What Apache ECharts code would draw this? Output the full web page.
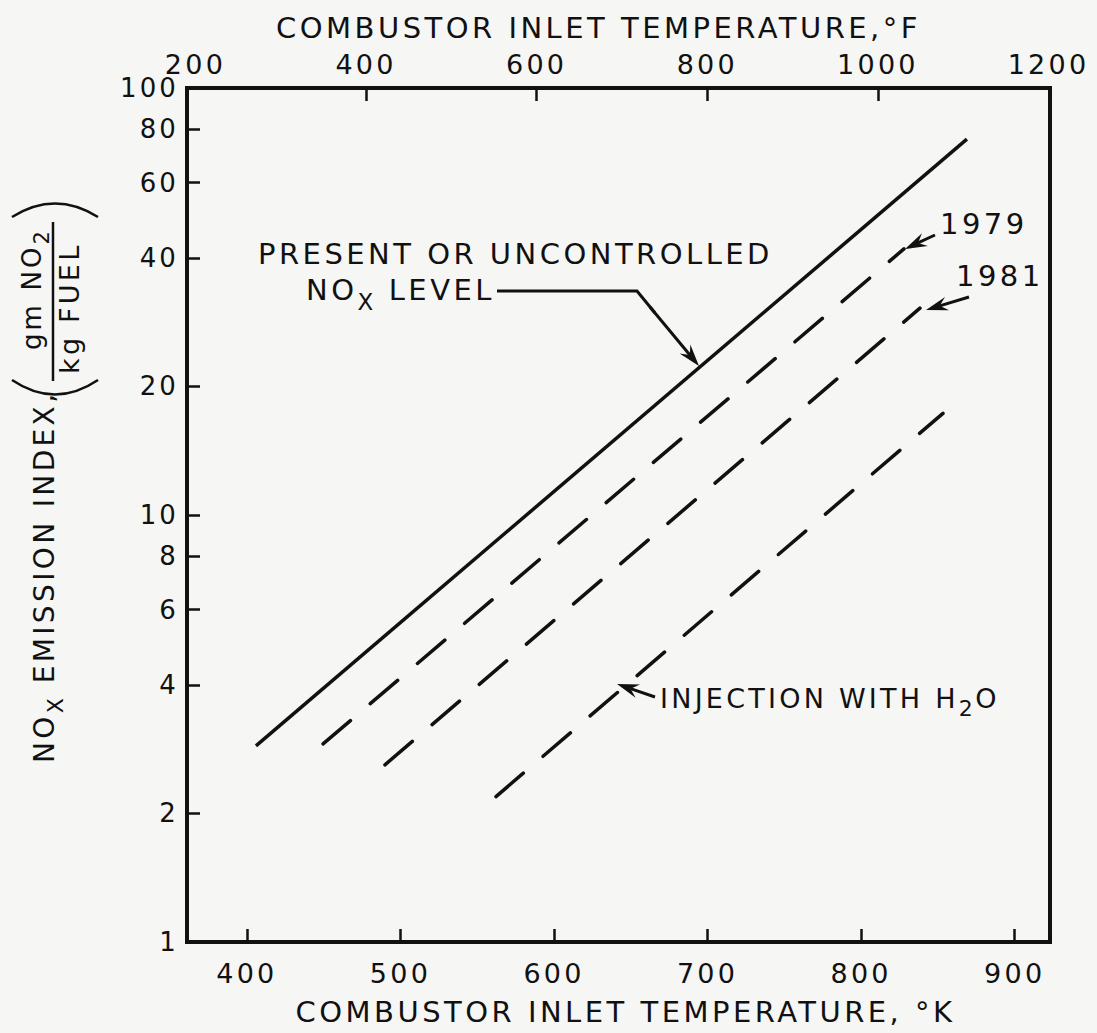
<!DOCTYPE html>
<html>
<head>
<meta charset="utf-8">
<script src="https://cdn.jsdelivr.net/npm/echarts@6/dist/echarts.min.js"></script>
<style>
  html, body { margin: 0; padding: 0; background: #f6f6f5; }
  #chart { width: 1097px; height: 1033px; }
  /* stencil lettering is widely spaced */
  #chart svg text { letter-spacing: 0.12em; }
</style>
</head>
<body>
<div id="chart"></div>
<script>
// axis ticks / labels
const kelvinTicks = [400, 500, 600, 700, 800, 900];
const fahrenheitLabels = [200, 400, 600, 800, 1000, 1200];
const fahrenheitTicks = [400, 600, 800, 1000];
const indexLabels = [1, 2, 4, 6, 8, 10, 20, 40, 60, 80, 100];
const indexTicks = [2, 4, 6, 8, 10, 20, 40, 60, 80];

// lines [K, g NO2 / kg fuel]
const presentLine = [[405.9, 2.88], [868.9, 75.9]];
const line1979 = [[449.6, 2.91], [827.9, 42.0]];
const line1981 = [[489.9, 2.60], [838.3, 30.5]];
const injectionLine = [[562.2, 2.19], [853.3, 17.3]];

const K_MIN = 361, K_MAX = 923;
const toF = k => k * 9 / 5 - 459.67;

const FONT = 'DejaVu Sans';
const INK = '#111';
const SPACING = 0.12; // must match the css letter-spacing

const chart = echarts.init(document.getElementById('chart'), null, { renderer: 'svg' });

const measureCtx = document.createElement('canvas').getContext('2d');
function textWidth(t, size) {
    measureCtx.font = size + 'px "' + FONT + '"';
    measureCtx.letterSpacing = (SPACING * size) + 'px';
    return measureCtx.measureText(t).width;
}

// a row of text pieces, some of them subscripts; rotated rows read bottom-up
function textRow(parts, x, y, size, rotated) {
    const els = [];
    let off = 0;
    parts.forEach(p => {
        const sub = Array.isArray(p);
        const t = sub ? p[0] : p;
        const s = sub ? Math.round(size * 0.8) : size;
        const dy = sub ? size * 0.4 : 0;
        els.push({
            type: 'text',
            x: rotated ? x + dy : x + off,
            y: rotated ? y - off : y + dy,
            rotation: rotated ? Math.PI / 2 : 0,
            style: { text: t, fontSize: s, fontFamily: FONT, fill: INK, align: 'left', verticalAlign: 'middle' }
        });
        off += textWidth(t, s);
    });
    return els;
}

function arrow(x1, y1, x2, y2) {
    const a = Math.atan2(y2 - y1, x2 - x1);
    const len = 22, half = 7;
    const bx = x2 - len * Math.cos(a), by = y2 - len * Math.sin(a);
    const nx = x2 - 0.65 * len * Math.cos(a), ny = y2 - 0.65 * len * Math.sin(a);
    const px = -Math.sin(a) * half, py = Math.cos(a) * half;
    return [
        { type: 'line', shape: { x1: x1, y1: y1, x2: nx, y2: ny }, style: { stroke: INK, lineWidth: 3 } },
        { type: 'polygon', shape: { points: [[x2, y2], [bx + px, by + py], [nx, ny], [bx - px, by - py]] }, style: { fill: INK } }
    ];
}

const dashed = { color: INK, width: 3.5, type: [36, 26], cap: 'round' };
const tickFont = { fontFamily: FONT, color: INK };

const option = {
    backgroundColor: '#f6f6f5',
    animation: false,
    grid: {
        left: 187, right: 47, top: 88, bottom: 91,
        show: true, borderColor: INK, borderWidth: 4, backgroundColor: 'transparent'
    },
    xAxis: [
        {
            type: 'value', position: 'bottom', min: K_MIN, max: K_MAX,
            name: 'COMBUSTOR INLET TEMPERATURE, °K', nameLocation: 'middle', nameGap: 55,
            nameTextStyle: { fontSize: 29, fontFamily: FONT, color: INK, padding: [0, 0, 0, 14] },
            axisLine: { lineStyle: { color: INK, width: 4 } },
            axisTick: { inside: true, length: 13, customValues: kelvinTicks, lineStyle: { color: INK, width: 2.5 } },
            axisLabel: Object.assign({ customValues: kelvinTicks, fontSize: 27, margin: 18, formatter: v => String(v) }, tickFont),
            splitLine: { show: false }
        },
        {
            type: 'value', position: 'top', min: toF(K_MIN), max: toF(K_MAX),
            name: 'COMBUSTOR INLET TEMPERATURE,°F', nameLocation: 'middle', nameGap: 46,
            nameTextStyle: { fontSize: 29, fontFamily: FONT, color: INK, padding: [0, 40, 0, 0] },
            axisLine: { lineStyle: { color: INK, width: 4 } },
            axisTick: { inside: true, length: 13, customValues: fahrenheitTicks, lineStyle: { color: INK, width: 2.5 } },
            axisLabel: Object.assign({ customValues: fahrenheitLabels, fontSize: 27, margin: 10, formatter: v => String(v) }, tickFont),
            splitLine: { show: false }
        }
    ],
    yAxis: {
        type: 'log', logBase: 10, min: 1, max: 100,
        axisLine: { lineStyle: { color: INK, width: 4 } },
        axisTick: { inside: true, length: 13, customValues: indexTicks, lineStyle: { color: INK, width: 2.5 } },
        axisLabel: Object.assign({ customValues: indexLabels, fontSize: 26, margin: 8, formatter: v => String(v) }, tickFont),
        splitLine: { show: false },
        minorTick: { show: false }
    },
    series: [
        { name: 'Present', type: 'line', data: presentLine, showSymbol: false, lineStyle: { color: INK, width: 3.5 } },
        { name: '1979', type: 'line', data: line1979, showSymbol: false, lineStyle: dashed },
        { name: '1981', type: 'line', data: line1981, showSymbol: false, lineStyle: dashed },
        { name: 'Injection', type: 'line', data: injectionLine, showSymbol: false, lineStyle: dashed }
    ],
    graphic: [
        // y axis title, rotated to read bottom-up
        ...textRow(['NO', ['X'], ' EMISSION INDEX,'], 44, 763, 28, true),
        ...textRow(['gm NO', ['2']], 32, 350, 26, true),
        ...textRow(['kg FUEL'], 69, 374, 27, true),
        { type: 'line', shape: { x1: 53, y1: 222, x2: 53, y2: 381 }, style: { stroke: INK, lineWidth: 2.5 } },
        { type: 'bezierCurve', shape: { x1: 12, y1: 217, x2: 98, y2: 217, cpx1: 55, cpy1: 190 }, style: { stroke: INK, lineWidth: 2.5, fill: null } },
        { type: 'bezierCurve', shape: { x1: 12, y1: 380, x2: 98, y2: 380, cpx1: 55, cpy1: 409 }, style: { stroke: INK, lineWidth: 2.5, fill: null } },

        // annotations
        ...textRow(['PRESENT OR UNCONTROLLED'], 258, 254, 29),
        ...textRow(['NO', ['X'], ' LEVEL'], 306, 290, 29),
        { type: 'polyline', shape: { points: [[497, 291], [637, 291], [655, 313]] }, style: { stroke: INK, lineWidth: 3, fill: null } },
        ...arrow(650, 307, 699, 366),
        ...textRow(['1979'], 940, 224, 29),
        ...arrow(935, 235, 905, 249),
        ...textRow(['1981'], 956, 276, 29),
        ...arrow(969, 297, 926, 310),
        ...textRow(['INJECTION WITH H', ['2'], 'O'], 660, 698, 27),
        ...arrow(655, 697, 617, 684)
    ]
};

chart.setOption(option);
</script>
</body>
</html>
